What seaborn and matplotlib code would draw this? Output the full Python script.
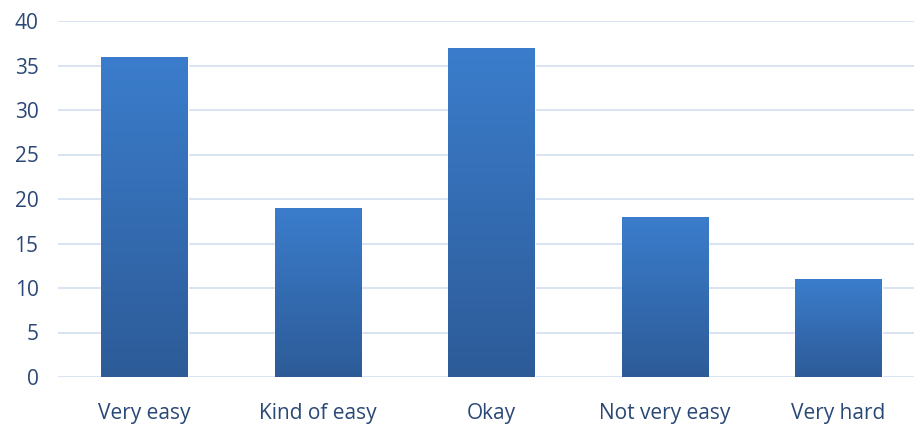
import numpy as np
import pandas as pd
import matplotlib
matplotlib.use("Agg")
import matplotlib.pyplot as plt
import matplotlib.patheffects as pe
from matplotlib.colors import LinearSegmentedColormap
import seaborn as sns

categories = ["Very easy", "Kind of easy", "Okay", "Not very easy", "Very hard"]
counts = [36, 19, 37, 18, 11]
y_ticks = [0, 5, 10, 15, 20, 25, 30, 35, 40]

sns.set_theme(style="white")
plt.rcParams["font.family"] = ["Open Sans", "DejaVu Sans"]

text_color = "#2a4877"
grid_color = "#d7e1f0"

df = pd.DataFrame({"category": categories, "count": counts})

fig = plt.figure(figsize=(9.14, 4.24), dpi=100)
ax = fig.add_axes([58 / 914, 1 - 377 / 424, (925 - 58) / 914, (377 - 21) / 424])

sns.barplot(data=df, x="category", y="count", color="#3a7bc8", width=0.5,
            ax=ax, zorder=3, saturation=1)

ax.set_yticks(y_ticks)
ax.yaxis.grid(True, color=grid_color, linewidth=1.3, zorder=0)
ax.set_axisbelow(True)
for s in ax.spines.values():
    s.set_visible(False)

# vertical gradient fill on each bar, lighter at the top
cmap = LinearSegmentedColormap.from_list("bar", ["#2d5b98", "#3b7dcc"])
grad = np.linspace(0, 1, 256).reshape(-1, 1)
for patch in ax.patches:
    x0, y0 = patch.get_x(), patch.get_y()
    w, h = patch.get_width(), patch.get_height()
    patch.set_path_effects([pe.SimplePatchShadow(offset=(0, -1.5), alpha=0.18,
                                                 shadow_rgbFace="#555555"),
                            pe.Normal()])
    im = ax.imshow(grad, cmap=cmap, origin="lower", aspect="auto",
                   extent=[x0, x0 + w, y0, y0 + h], zorder=4)
    im.set_clip_path(patch)

ax.set_xlim(-0.5, len(categories) - 0.5)
ax.set_ylim(0, 40)

ax.set_xlabel("")
ax.set_ylabel("")
ax.tick_params(axis="both", length=0, labelsize=15, labelcolor=text_color)
ax.tick_params(axis="x", pad=19)
ax.tick_params(axis="y", pad=14)

fig.savefig("out.png", dpi=100)
